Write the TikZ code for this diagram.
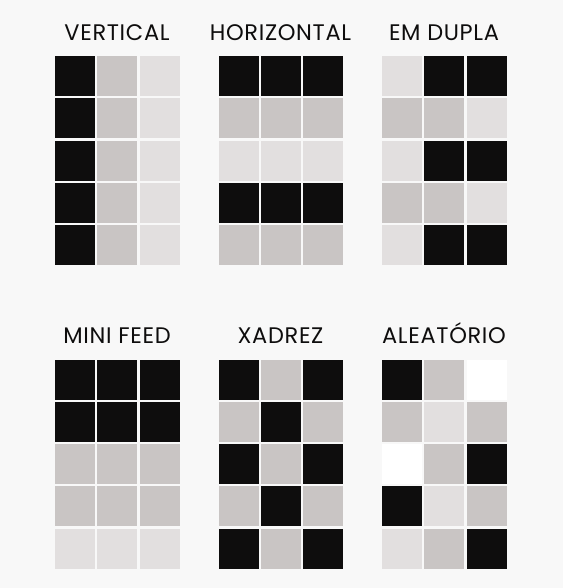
\documentclass[tikz,border=0pt]{standalone}
\usepackage{fontspec}
\setmainfont{Poppins}[LetterSpace=3]
\definecolor{bg}{HTML}{F8F8F8}
\definecolor{cB}{HTML}{0E0D0D}
\definecolor{cM}{HTML}{C9C5C4}
\definecolor{cL}{HTML}{E2DFDF}
\definecolor{cW}{HTML}{FFFFFF}
\begin{document}
\begin{tikzpicture}[x=1pt,y=-1pt]
  \tikzstyle{cell}=[minimum size=40pt, inner sep=0pt, outer sep=0pt]
  \tikzstyle{title}=[font=\fontsize{22.5}{26}\selectfont, text=cB, anchor=base, inner sep=0pt]
  \fill[bg] (0,0) rectangle (563,588);

  % titles
  \node[title] (tvert) at (117,40.7) {VERTICAL};
  \node[title] (thor) at (280.5,40.7) {HORIZONTAL};
  \node[title] (tdup) at (444,40.7) {EM DUPLA};
  \node[title] (tfeed) at (117,343) {MINI FEED};
  \node[title] (txad) at (280.5,343) {XADREZ};
  \node[title] (talea) at (444,343) {ALEATÓRIO};

  % grids: row/col1/col2/col3
  \foreach \r/\ca/\cb/\cc in {0/B/M/L,1/B/M/L,2/B/M/L,3/B/M/L,4/B/M/L}
    \foreach \c/\col in {0/\ca,1/\cb,2/\cc}
      \node[cell, fill=c\col] (vert-\r-\c) at ({75+42.3*\c},{76+42.3*\r}) {};
  \foreach \r/\ca/\cb/\cc in {0/B/B/B,1/M/M/M,2/L/L/L,3/B/B/B,4/M/M/M}
    \foreach \c/\col in {0/\ca,1/\cb,2/\cc}
      \node[cell, fill=c\col] (hor-\r-\c) at ({238.5+42.3*\c},{76+42.3*\r}) {};
  \foreach \r/\ca/\cb/\cc in {0/L/B/B,1/M/M/L,2/L/B/B,3/M/M/L,4/L/B/B}
    \foreach \c/\col in {0/\ca,1/\cb,2/\cc}
      \node[cell, fill=c\col] (dup-\r-\c) at ({402+42.3*\c},{76+42.3*\r}) {};
  \foreach \r/\ca/\cb/\cc in {0/B/B/B,1/B/B/B,2/M/M/M,3/M/M/M,4/L/L/L}
    \foreach \c/\col in {0/\ca,1/\cb,2/\cc}
      \node[cell, fill=c\col] (feed-\r-\c) at ({75+42.3*\c},{379.5+42.3*\r}) {};
  \foreach \r/\ca/\cb/\cc in {0/B/M/B,1/M/B/M,2/B/M/B,3/M/B/M,4/B/M/B}
    \foreach \c/\col in {0/\ca,1/\cb,2/\cc}
      \node[cell, fill=c\col] (xad-\r-\c) at ({238.5+42.3*\c},{379.5+42.3*\r}) {};
  \foreach \r/\ca/\cb/\cc in {0/B/M/W,1/M/L/M,2/W/M/B,3/B/L/M,4/L/M/B}
    \foreach \c/\col in {0/\ca,1/\cb,2/\cc}
      \node[cell, fill=c\col] (alea-\r-\c) at ({402+42.3*\c},{379.5+42.3*\r}) {};
\end{tikzpicture}
\end{document}
